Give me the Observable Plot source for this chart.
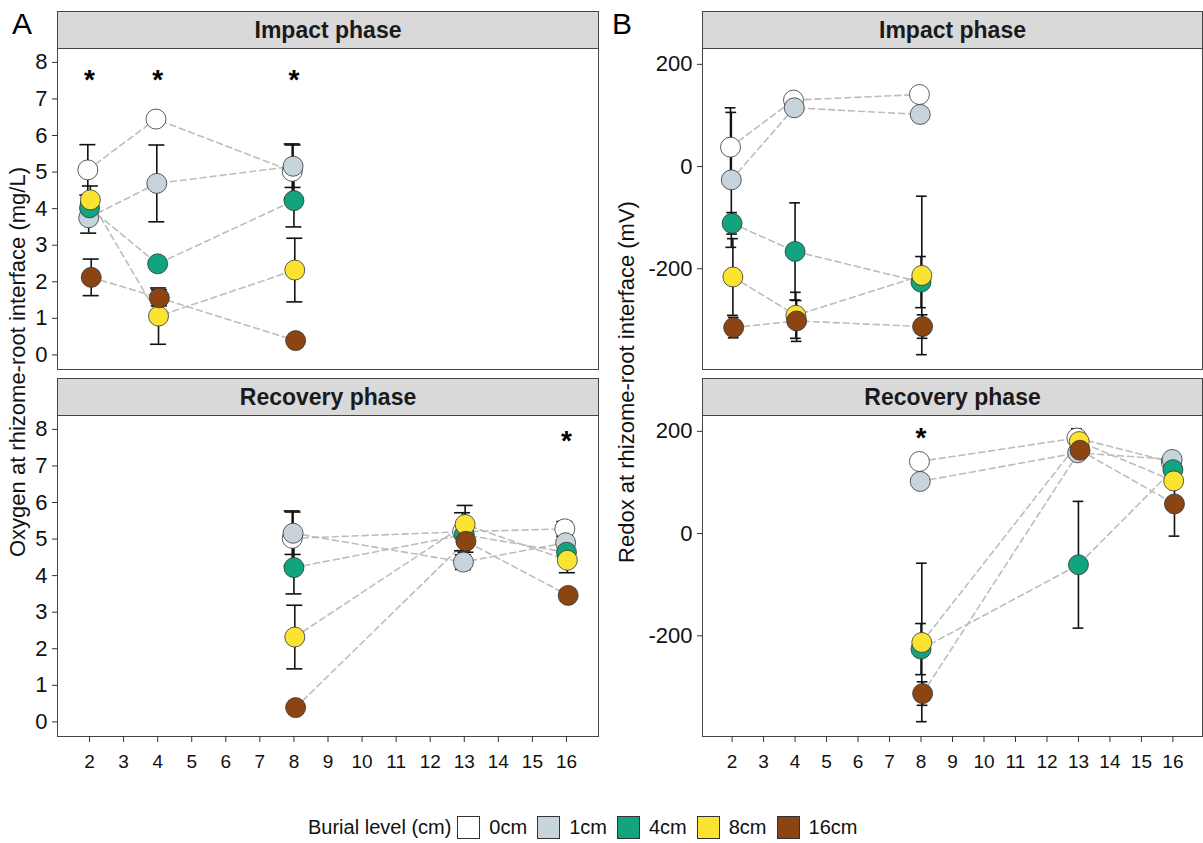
<!DOCTYPE html>
<html>
<head>
<meta charset="utf-8">
<script src="https://cdn.jsdelivr.net/npm/d3@7"></script>
<script src="https://cdn.jsdelivr.net/npm/@observablehq/plot@0.6"></script>
<style>
  body { margin: 0; background: #fff; font-family: "Liberation Sans", Arial, sans-serif; }
  #root { position: relative; width: 1203px; height: 843px; overflow: hidden; background: #fff; }
  .strip { position: absolute; background: #d9d9d9; border: 1px solid #444; box-sizing: border-box;
           display: flex; align-items: center; justify-content: center;
           font-weight: bold; font-size: 23px; color: #1a1a1a; }
  .ylab { position: absolute; white-space: nowrap; font-size: 22px; color: #111;
          transform: translate(-50%, -50%) rotate(-90deg); }
  .tag { position: absolute; font-size: 30px; color: #000; line-height: 1; }
  #legend { position: absolute; top: 816px; left: 308px; display: flex; align-items: center;
            font-size: 20px; color: #111; white-space: nowrap; }
  #legend .key { width: 23px; height: 23px; border: 1px solid #333; box-sizing: border-box; }
  #legend .lab { margin: 0 10px 0 9px; }
</style>
</head>
<body>
<div id="root"></div>
<script>
// ---------------- data ----------------
const levels = ["0cm", "1cm", "4cm", "8cm", "16cm"];
const levelColors = ["#ffffff", "#c8d4db", "#12a37f", "#fbe332", "#8b4513"];
const impactWeeks = [2, 4, 8];
const recoveryWeeks = [8, 13, 16];
const xTicks = [2, 3, 4, 5, 6, 7, 8, 9, 10, 11, 12, 13, 14, 15, 16];
const oxygenTicks = [0, 1, 2, 3, 4, 5, 6, 7, 8];
const redoxTicks = [-200, 0, 200];

// Oxygen (mg/L), rows = burial level, columns = weeks
const oxygenImpactMean = [
  [5.06, 6.45, 5.02],
  [3.75, 4.69, 5.16],
  [4.02, 2.49, 4.22],
  [4.24, 1.06, 2.32],
  [2.12, 1.56, 0.39]
];
const oxygenImpactSE = [
  [0.69, 0.10, 0.75],
  [0.42, 1.05, 0.58],
  [0.30, 0.10, 0.72],
  [0.38, 0.77, 0.87],
  [0.50, 0.22, 0.05]
];
const oxygenRecoveryMean = [
  [5.02, 5.20, 5.28],
  [5.16, 4.37, 4.90],
  [4.22, 5.12, 4.64],
  [2.32, 5.40, 4.42],
  [0.39, 4.94, 3.46]
];
const oxygenRecoverySE = [
  [0.75, 0.52, 0.20],
  [0.58, 0.20, 0.20],
  [0.72, 0.20, 0.15],
  [0.87, 0.52, 0.34],
  [0.05, 0.30, 0.15]
];

// Redox (mV)
const redoxImpactMean = [
  [38, 130, 141],
  [-26, 115, 102],
  [-111, -166, -226],
  [-216, -291, -213],
  [-315, -302, -313]
];
const redoxImpactSE = [
  [77, 8, 8],
  [132, 8, 8],
  [21, 95, 50],
  [75, 45, 155],
  [20, 40, 23]
];
const redoxRecoveryMean = [
  [141, 187, 140],
  [102, 158, 145],
  [-226, -61, 125],
  [-213, 180, 103],
  [-313, 163, 58]
];
const redoxRecoverySE = [
  [8, 18, 8],
  [8, 8, 8],
  [50, 124, 10],
  [155, 10, 10],
  [23, 10, 63]
];

// significance stars (weeks) and their heights
const oxygenImpactStars = [2, 4, 8];
const oxygenRecoveryStars = [16];
const redoxImpactStars = [];
const redoxRecoveryStars = [8];
const oxygenImpactStarY = 7.61;
const oxygenRecoveryStarY = 7.77;
const redoxRecoveryStarY = 192;

// ---------------- helpers ----------------
const root = document.getElementById("root");

function rows(weeks, means, ses) {
  const out = [];
  levels.forEach((lev, i) => {
    weeks.forEach((w, j) => {
      out.push({level: lev, li: i, week: w, x: w + (i - 2) * 0.025, mean: means[i][j], se: ses[i][j]});
    });
  });
  return out;
}

function panel({data, yDomain, yTicks, showX, stars, starY, capW, left, top, width, height, mLeft, mRight, mTop, mBottom}) {
  const marks = [
    Plot.frame({stroke: "#444", strokeWidth: 1}),
    Plot.axisY({ticks: yTicks, tickSize: 5, tickPadding: 5, fontSize: 22, stroke: "#333", label: null, color: "#111", tickFormat: d => String(d)}),
    Plot.line(data, {x: "x", y: "mean", z: "level", stroke: "#bdbdbd", strokeWidth: 1.6, strokeDasharray: "6,4"}),
    Plot.ruleX(data, {x: "x", y1: d => d.mean - d.se, y2: d => d.mean + d.se, stroke: "#111", strokeWidth: 1.6}),
    Plot.ruleY(data, {y: d => d.mean + d.se, x1: d => d.x - capW / 2, x2: d => d.x + capW / 2, stroke: "#111", strokeWidth: 1.6}),
    Plot.ruleY(data, {y: d => d.mean - d.se, x1: d => d.x - capW / 2, x2: d => d.x + capW / 2, stroke: "#111", strokeWidth: 1.6}),
    Plot.dot(data, {x: "x", y: "mean", r: 10, fill: "level", stroke: "#333", strokeWidth: 0.8}),
    Plot.text(stars, {x: d => d, y: () => starY, text: () => "*", fontSize: 28, fontWeight: "bold", dy: 3, fill: "#000"})
  ];
  if (showX) {
    marks.push(Plot.axisX({ticks: xTicks, tickSize: 6, tickPadding: 12, fontSize: 19, stroke: "#333", label: null, tickFormat: d => String(d), color: "#111"}));
  }
  const p = Plot.plot({
    width, height,
    marginLeft: mLeft, marginRight: mRight, marginTop: mTop, marginBottom: mBottom,
    x: {domain: [1.06, 16.94], axis: showX ? undefined : null, label: null},
    y: {domain: yDomain, label: null},
    color: {domain: levels, range: levelColors},
    style: {fontFamily: "Liberation Sans, Arial, sans-serif", background: "transparent", overflow: "visible"},
    marks
  });
  p.style.position = "absolute";
  p.style.left = left + "px";
  p.style.top = top + "px";
  root.appendChild(p);
}

function strip(text, left, top, width) {
  const d = document.createElement("div");
  d.className = "strip";
  d.style.left = left + "px"; d.style.top = top + "px";
  d.style.width = width + "px"; d.style.height = "38px";
  d.textContent = text;
  root.appendChild(d);
}

function ylab(text, cx, cy) {
  const d = document.createElement("div");
  d.className = "ylab";
  d.style.left = cx + "px"; d.style.top = cy + "px";
  d.textContent = text;
  root.appendChild(d);
}

function tag(text, left, top) {
  const d = document.createElement("div");
  d.className = "tag";
  d.style.left = left + "px"; d.style.top = top + "px";
  d.textContent = text;
  root.appendChild(d);
}

// ---------------- panels ----------------
const oxDomain = [-0.4, 8.38];
const rdDomain = [-397, 231];

// A: Oxygen
panel({data: rows(impactWeeks, oxygenImpactMean, oxygenImpactSE), yDomain: oxDomain, yTicks: oxygenTicks,
  showX: false, stars: oxygenImpactStars, starY: oxygenImpactStarY, capW: 0.47,
  left: 0, top: 47, width: 600, height: 323, mLeft: 57, mRight: 2, mTop: 1, mBottom: 1});
panel({data: rows(recoveryWeeks, oxygenRecoveryMean, oxygenRecoverySE), yDomain: oxDomain, yTicks: oxygenTicks,
  showX: true, stars: oxygenRecoveryStars, starY: oxygenRecoveryStarY, capW: 0.47,
  left: 0, top: 414, width: 600, height: 362, mLeft: 57, mRight: 2, mTop: 1, mBottom: 40});

// B: Redox
panel({data: rows(impactWeeks, redoxImpactMean, redoxImpactSE), yDomain: rdDomain, yTicks: redoxTicks,
  showX: false, stars: redoxImpactStars, starY: 0, capW: 0.34,
  left: 600, top: 47, width: 603, height: 323, mLeft: 102, mRight: 1, mTop: 1, mBottom: 1});
panel({data: rows(recoveryWeeks, redoxRecoveryMean, redoxRecoverySE), yDomain: rdDomain, yTicks: redoxTicks,
  showX: true, stars: redoxRecoveryStars, starY: redoxRecoveryStarY, capW: 0.34,
  left: 600, top: 414, width: 603, height: 362, mLeft: 102, mRight: 1, mTop: 1, mBottom: 40});

strip("Impact phase", 57, 11, 542);
strip("Recovery phase", 57, 378, 542);
strip("Impact phase", 702, 11, 501);
strip("Recovery phase", 702, 378, 501);

ylab("Oxygen at rhizome-root interface (mg/L)", 18, 362);
ylab("Redox at rhizome-root interface (mV)", 627, 382);

tag("A", 12, 9);
tag("B", 612, 9);

// legend
const lg = document.createElement("div");
lg.id = "legend";
const t = document.createElement("span");
t.textContent = "Burial level (cm)";
t.style.marginRight = "6px";
lg.appendChild(t);
levels.forEach((lev, i) => {
  const k = document.createElement("span");
  k.className = "key";
  k.style.background = levelColors[i];
  lg.appendChild(k);
  const l = document.createElement("span");
  l.className = "lab";
  l.textContent = lev;
  lg.appendChild(l);
});
root.appendChild(lg);
</script>
</body>
</html>
